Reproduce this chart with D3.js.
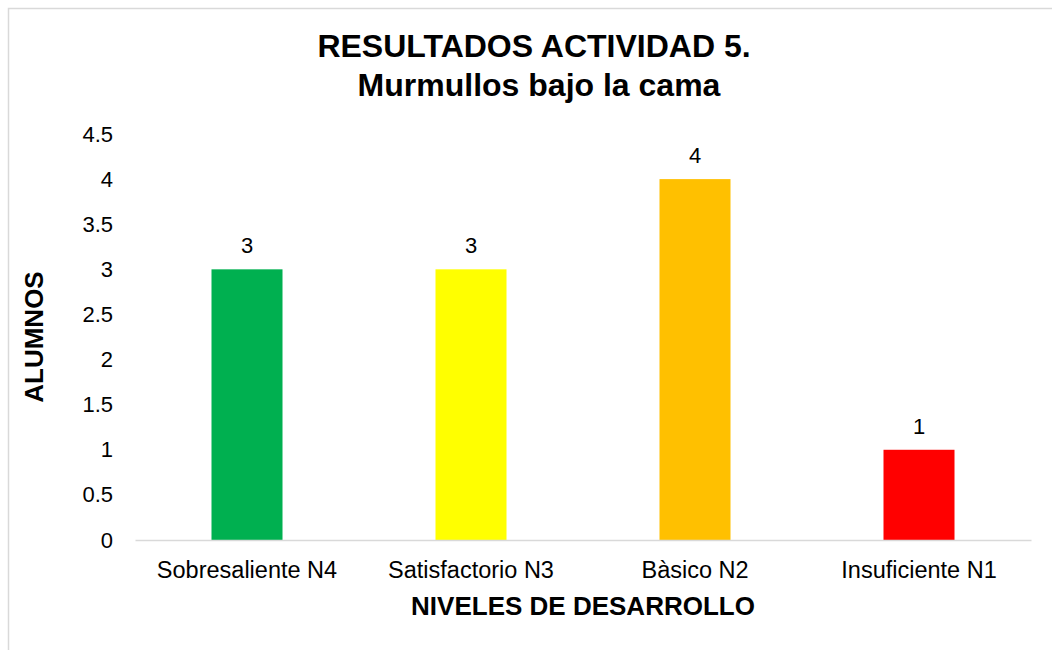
<!DOCTYPE html>
<html>
<head>
<meta charset="utf-8">
<script src="https://cdn.jsdelivr.net/npm/d3@7"></script>
<style>
  body { margin: 0; background: #fff; }
  svg { display: block; font-family: "Liberation Sans", Arial, sans-serif; }
</style>
</head>
<body>
<div id="chart"></div>
<script>
// data
const categories = ["Sobresaliente N4", "Satisfactorio N3", "Bàsico N2", "Insuficiente N1"];
const values = [3, 3, 4, 1];
const colors = ["#00B050", "#FFFF00", "#FFC000", "#FF0000"];
const yTicks = [0, 0.5, 1, 1.5, 2, 2.5, 3, 3.5, 4, 4.5];

const width = 1052, height = 650;
const margin = {left: 135, right: 21, top: 134, bottom: 110};

const svg = d3.select("#chart").append("svg")
    .attr("width", width)
    .attr("height", height);

// chart border
svg.append("rect")
    .attr("x", 8.5).attr("y", 8.5)
    .attr("width", width + 20).attr("height", height + 20)
    .style("fill", "white")
    .style("stroke", "#d9d9d9")
    .style("stroke-width", 1.5);

const x = d3.scaleBand()
    .domain(categories)
    .range([margin.left, width - margin.right]);

const y = d3.scaleLinear()
    .domain([0, 4.5])
    .range([height - margin.bottom, margin.top]);

const barW = x.step() * 0.317;

svg.selectAll(".bar")
    .data(values)
    .enter().append("rect")
    .attr("class", "bar")
    .attr("x", (d, i) => x(categories[i]) + x.bandwidth() / 2 - barW / 2)
    .attr("y", d => y(d))
    .attr("width", barW)
    .attr("height", d => y(0) - y(d))
    .style("fill", (d, i) => colors[i]);

// value labels
svg.selectAll(".val")
    .data(values)
    .enter().append("text")
    .attr("class", "val")
    .attr("x", (d, i) => x(categories[i]) + x.bandwidth() / 2)
    .attr("y", d => y(d) - 16)
    .attr("text-anchor", "middle")
    .style("font-size", "22px")
    .style("fill", "#000")
    .text(d => d);

// y axis (labels only)
const yAxis = d3.axisLeft(y).tickValues(yTicks).tickSize(0).tickPadding(22)
    .tickFormat(d => d);
const gy = svg.append("g")
    .attr("transform", `translate(${margin.left},0)`)
    .call(yAxis);
gy.select(".domain").remove();
gy.selectAll("text").style("font-size", "22px").style("fill", "#000")
    .style("font-family", "Liberation Sans, Arial, sans-serif");

// x axis
const xAxis = d3.axisBottom(x).tickSize(0).tickPadding(21);
const gx = svg.append("g")
    .attr("transform", `translate(0,${y(0)})`)
    .call(xAxis);
gx.select(".domain").style("stroke", "#d9d9d9").style("stroke-width", 1.5);
gx.selectAll("text").style("font-size", "23.5px").style("fill", "#000")
    .style("font-family", "Liberation Sans, Arial, sans-serif");

// title
svg.append("text")
    .attr("x", 534).attr("y", 57)
    .attr("text-anchor", "middle")
    .style("font-size", "32px").style("font-weight", "bold")
    .text("RESULTADOS ACTIVIDAD 5.");
svg.append("text")
    .attr("x", 539).attr("y", 96)
    .attr("text-anchor", "middle")
    .style("font-size", "32px").style("font-weight", "bold")
    .text("Murmullos bajo la cama");

// axis titles
svg.append("text")
    .attr("x", 583).attr("y", 615)
    .attr("text-anchor", "middle")
    .style("font-size", "26px").style("font-weight", "bold")
    .text("NIVELES DE DESARROLLO");

svg.append("text")
    .attr("transform", "translate(43,337) rotate(-90)")
    .attr("text-anchor", "middle")
    .style("font-size", "26px").style("font-weight", "bold")
    .text("ALUMNOS");
</script>
</body>
</html>
